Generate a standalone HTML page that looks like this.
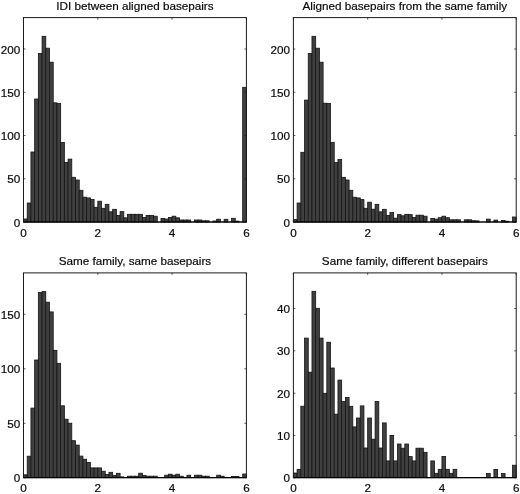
<!DOCTYPE html>
<html><head><meta charset="utf-8"><style>
html,body{margin:0;padding:0;background:#fff;}
svg{display:block;filter:grayscale(1);}
text{font-family:"Liberation Sans",sans-serif;font-size:11.7px;fill:#0a0a0a;stroke:#0a0a0a;stroke-width:0.2px;}
</style></head><body>
<svg width="520" height="494" viewBox="0 0 520 494">
<rect width="520" height="494" fill="#fff"/>
<rect x="23.50" y="219.00" width="3.72" height="3.00" fill="#404040" stroke="#141414" stroke-width="0.8"/>
<rect x="27.21" y="203.00" width="3.72" height="19.00" fill="#404040" stroke="#141414" stroke-width="0.8"/>
<rect x="30.93" y="152.00" width="3.72" height="70.00" fill="#404040" stroke="#141414" stroke-width="0.8"/>
<rect x="34.65" y="99.00" width="3.72" height="123.00" fill="#404040" stroke="#141414" stroke-width="0.8"/>
<rect x="38.36" y="53.50" width="3.72" height="168.50" fill="#404040" stroke="#141414" stroke-width="0.8"/>
<rect x="42.08" y="36.30" width="3.72" height="185.70" fill="#404040" stroke="#141414" stroke-width="0.8"/>
<rect x="45.79" y="48.20" width="3.72" height="173.80" fill="#404040" stroke="#141414" stroke-width="0.8"/>
<rect x="49.51" y="62.20" width="3.72" height="159.80" fill="#404040" stroke="#141414" stroke-width="0.8"/>
<rect x="53.22" y="102.80" width="3.72" height="119.20" fill="#404040" stroke="#141414" stroke-width="0.8"/>
<rect x="56.94" y="103.50" width="3.72" height="118.50" fill="#404040" stroke="#141414" stroke-width="0.8"/>
<rect x="60.65" y="142.50" width="3.72" height="79.50" fill="#404040" stroke="#141414" stroke-width="0.8"/>
<rect x="64.37" y="162.40" width="3.72" height="59.60" fill="#404040" stroke="#141414" stroke-width="0.8"/>
<rect x="68.08" y="159.10" width="3.72" height="62.90" fill="#404040" stroke="#141414" stroke-width="0.8"/>
<rect x="71.80" y="177.30" width="3.72" height="44.70" fill="#404040" stroke="#141414" stroke-width="0.8"/>
<rect x="75.51" y="180.00" width="3.72" height="42.00" fill="#404040" stroke="#141414" stroke-width="0.8"/>
<rect x="79.22" y="190.30" width="3.72" height="31.70" fill="#404040" stroke="#141414" stroke-width="0.8"/>
<rect x="82.94" y="197.20" width="3.72" height="24.80" fill="#404040" stroke="#141414" stroke-width="0.8"/>
<rect x="86.66" y="197.90" width="3.72" height="24.10" fill="#404040" stroke="#141414" stroke-width="0.8"/>
<rect x="90.37" y="199.40" width="3.72" height="22.60" fill="#404040" stroke="#141414" stroke-width="0.8"/>
<rect x="94.09" y="207.30" width="3.72" height="14.70" fill="#404040" stroke="#141414" stroke-width="0.8"/>
<rect x="97.80" y="201.20" width="3.72" height="20.80" fill="#404040" stroke="#141414" stroke-width="0.8"/>
<rect x="101.52" y="208.30" width="3.72" height="13.70" fill="#404040" stroke="#141414" stroke-width="0.8"/>
<rect x="105.23" y="204.30" width="3.72" height="17.70" fill="#404040" stroke="#141414" stroke-width="0.8"/>
<rect x="108.95" y="211.80" width="3.72" height="10.20" fill="#404040" stroke="#141414" stroke-width="0.8"/>
<rect x="112.66" y="209.30" width="3.72" height="12.70" fill="#404040" stroke="#141414" stroke-width="0.8"/>
<rect x="116.38" y="215.40" width="3.72" height="6.60" fill="#404040" stroke="#141414" stroke-width="0.8"/>
<rect x="120.09" y="211.60" width="3.72" height="10.40" fill="#404040" stroke="#141414" stroke-width="0.8"/>
<rect x="123.81" y="217.80" width="3.72" height="4.20" fill="#404040" stroke="#141414" stroke-width="0.8"/>
<rect x="127.52" y="214.30" width="3.72" height="7.70" fill="#404040" stroke="#141414" stroke-width="0.8"/>
<rect x="131.24" y="214.30" width="3.72" height="7.70" fill="#404040" stroke="#141414" stroke-width="0.8"/>
<rect x="134.95" y="214.30" width="3.72" height="7.70" fill="#404040" stroke="#141414" stroke-width="0.8"/>
<rect x="138.67" y="214.30" width="3.72" height="7.70" fill="#404040" stroke="#141414" stroke-width="0.8"/>
<rect x="142.38" y="217.40" width="3.72" height="4.60" fill="#404040" stroke="#141414" stroke-width="0.8"/>
<rect x="146.10" y="215.40" width="3.72" height="6.60" fill="#404040" stroke="#141414" stroke-width="0.8"/>
<rect x="149.81" y="215.40" width="3.72" height="6.60" fill="#404040" stroke="#141414" stroke-width="0.8"/>
<rect x="153.53" y="216.20" width="3.72" height="5.80" fill="#404040" stroke="#141414" stroke-width="0.8"/>
<rect x="160.96" y="218.40" width="3.72" height="3.60" fill="#404040" stroke="#141414" stroke-width="0.8"/>
<rect x="164.67" y="219.00" width="3.72" height="3.00" fill="#404040" stroke="#141414" stroke-width="0.8"/>
<rect x="168.39" y="217.40" width="3.72" height="4.60" fill="#404040" stroke="#141414" stroke-width="0.8"/>
<rect x="172.10" y="216.20" width="3.72" height="5.80" fill="#404040" stroke="#141414" stroke-width="0.8"/>
<rect x="175.82" y="217.80" width="3.72" height="4.20" fill="#404040" stroke="#141414" stroke-width="0.8"/>
<rect x="179.53" y="220.00" width="3.72" height="2.00" fill="#404040" stroke="#141414" stroke-width="0.8"/>
<rect x="183.25" y="220.00" width="3.72" height="2.00" fill="#404040" stroke="#141414" stroke-width="0.8"/>
<rect x="186.96" y="220.00" width="3.72" height="2.00" fill="#404040" stroke="#141414" stroke-width="0.8"/>
<rect x="194.39" y="220.00" width="3.72" height="2.00" fill="#404040" stroke="#141414" stroke-width="0.8"/>
<rect x="198.11" y="220.00" width="3.72" height="2.00" fill="#404040" stroke="#141414" stroke-width="0.8"/>
<rect x="201.82" y="220.80" width="3.72" height="1.20" fill="#404040" stroke="#141414" stroke-width="0.8"/>
<rect x="205.54" y="220.80" width="3.72" height="1.20" fill="#404040" stroke="#141414" stroke-width="0.8"/>
<rect x="212.97" y="221.00" width="3.72" height="1.00" fill="#404040" stroke="#141414" stroke-width="0.8"/>
<rect x="216.68" y="219.20" width="3.72" height="2.80" fill="#404040" stroke="#141414" stroke-width="0.8"/>
<rect x="224.11" y="219.30" width="3.72" height="2.70" fill="#404040" stroke="#141414" stroke-width="0.8"/>
<rect x="231.54" y="218.30" width="3.72" height="3.70" fill="#404040" stroke="#141414" stroke-width="0.8"/>
<rect x="235.26" y="221.10" width="3.72" height="0.90" fill="#404040" stroke="#141414" stroke-width="0.8"/>
<rect x="242.69" y="87.30" width="3.72" height="134.70" fill="#404040" stroke="#141414" stroke-width="0.8"/>
<rect x="23.5" y="17.6" width="222.90" height="204.40" fill="none" stroke="#1a1a1a" stroke-width="1"/>
<line x1="23.5" y1="222.0" x2="246.4" y2="222.0" stroke="#000" stroke-width="1.2"/>
<line x1="23.50" y1="222.0" x2="23.50" y2="220.0" stroke="#1a1a1a" stroke-width="0.7"/>
<line x1="23.50" y1="17.6" x2="23.50" y2="19.6" stroke="#1a1a1a" stroke-width="0.7"/>
<text x="23.50" y="236.8" text-anchor="middle">0</text>
<line x1="97.80" y1="222.0" x2="97.80" y2="220.0" stroke="#1a1a1a" stroke-width="0.7"/>
<line x1="97.80" y1="17.6" x2="97.80" y2="19.6" stroke="#1a1a1a" stroke-width="0.7"/>
<text x="97.80" y="236.8" text-anchor="middle">2</text>
<line x1="172.10" y1="222.0" x2="172.10" y2="220.0" stroke="#1a1a1a" stroke-width="0.7"/>
<line x1="172.10" y1="17.6" x2="172.10" y2="19.6" stroke="#1a1a1a" stroke-width="0.7"/>
<text x="172.10" y="236.8" text-anchor="middle">4</text>
<line x1="246.40" y1="222.0" x2="246.40" y2="220.0" stroke="#1a1a1a" stroke-width="0.7"/>
<line x1="246.40" y1="17.6" x2="246.40" y2="19.6" stroke="#1a1a1a" stroke-width="0.7"/>
<text x="246.40" y="236.8" text-anchor="middle">6</text>
<line x1="23.5" y1="222.00" x2="25.5" y2="222.00" stroke="#1a1a1a" stroke-width="0.7"/>
<line x1="246.4" y1="222.00" x2="244.4" y2="222.00" stroke="#1a1a1a" stroke-width="0.7"/>
<text x="20.20" y="226.50" text-anchor="end">0</text>
<line x1="23.5" y1="178.75" x2="25.5" y2="178.75" stroke="#1a1a1a" stroke-width="0.7"/>
<line x1="246.4" y1="178.75" x2="244.4" y2="178.75" stroke="#1a1a1a" stroke-width="0.7"/>
<text x="20.20" y="183.25" text-anchor="end">50</text>
<line x1="23.5" y1="135.50" x2="25.5" y2="135.50" stroke="#1a1a1a" stroke-width="0.7"/>
<line x1="246.4" y1="135.50" x2="244.4" y2="135.50" stroke="#1a1a1a" stroke-width="0.7"/>
<text x="20.20" y="140.00" text-anchor="end">100</text>
<line x1="23.5" y1="92.25" x2="25.5" y2="92.25" stroke="#1a1a1a" stroke-width="0.7"/>
<line x1="246.4" y1="92.25" x2="244.4" y2="92.25" stroke="#1a1a1a" stroke-width="0.7"/>
<text x="20.20" y="96.75" text-anchor="end">150</text>
<line x1="23.5" y1="49.00" x2="25.5" y2="49.00" stroke="#1a1a1a" stroke-width="0.7"/>
<line x1="246.4" y1="49.00" x2="244.4" y2="49.00" stroke="#1a1a1a" stroke-width="0.7"/>
<text x="20.20" y="53.50" text-anchor="end">200</text>
<text x="134.95" y="9.7" text-anchor="middle">IDI between aligned basepairs</text>
<rect x="293.40" y="219.60" width="3.71" height="2.40" fill="#404040" stroke="#141414" stroke-width="0.8"/>
<rect x="297.11" y="203.00" width="3.71" height="19.00" fill="#404040" stroke="#141414" stroke-width="0.8"/>
<rect x="300.83" y="152.30" width="3.71" height="69.70" fill="#404040" stroke="#141414" stroke-width="0.8"/>
<rect x="304.54" y="100.10" width="3.71" height="121.90" fill="#404040" stroke="#141414" stroke-width="0.8"/>
<rect x="308.25" y="53.50" width="3.71" height="168.50" fill="#404040" stroke="#141414" stroke-width="0.8"/>
<rect x="311.97" y="36.30" width="3.71" height="185.70" fill="#404040" stroke="#141414" stroke-width="0.8"/>
<rect x="315.68" y="48.20" width="3.71" height="173.80" fill="#404040" stroke="#141414" stroke-width="0.8"/>
<rect x="319.39" y="62.20" width="3.71" height="159.80" fill="#404040" stroke="#141414" stroke-width="0.8"/>
<rect x="323.11" y="103.20" width="3.71" height="118.80" fill="#404040" stroke="#141414" stroke-width="0.8"/>
<rect x="326.82" y="103.50" width="3.71" height="118.50" fill="#404040" stroke="#141414" stroke-width="0.8"/>
<rect x="330.53" y="142.30" width="3.71" height="79.70" fill="#404040" stroke="#141414" stroke-width="0.8"/>
<rect x="334.25" y="162.60" width="3.71" height="59.40" fill="#404040" stroke="#141414" stroke-width="0.8"/>
<rect x="337.96" y="159.40" width="3.71" height="62.60" fill="#404040" stroke="#141414" stroke-width="0.8"/>
<rect x="341.67" y="177.30" width="3.71" height="44.70" fill="#404040" stroke="#141414" stroke-width="0.8"/>
<rect x="345.39" y="180.00" width="3.71" height="42.00" fill="#404040" stroke="#141414" stroke-width="0.8"/>
<rect x="349.10" y="190.30" width="3.71" height="31.70" fill="#404040" stroke="#141414" stroke-width="0.8"/>
<rect x="352.81" y="197.20" width="3.71" height="24.80" fill="#404040" stroke="#141414" stroke-width="0.8"/>
<rect x="356.53" y="197.90" width="3.71" height="24.10" fill="#404040" stroke="#141414" stroke-width="0.8"/>
<rect x="360.24" y="199.60" width="3.71" height="22.40" fill="#404040" stroke="#141414" stroke-width="0.8"/>
<rect x="363.95" y="208.30" width="3.71" height="13.70" fill="#404040" stroke="#141414" stroke-width="0.8"/>
<rect x="367.67" y="202.20" width="3.71" height="19.80" fill="#404040" stroke="#141414" stroke-width="0.8"/>
<rect x="371.38" y="209.20" width="3.71" height="12.80" fill="#404040" stroke="#141414" stroke-width="0.8"/>
<rect x="375.09" y="204.30" width="3.71" height="17.70" fill="#404040" stroke="#141414" stroke-width="0.8"/>
<rect x="378.81" y="211.80" width="3.71" height="10.20" fill="#404040" stroke="#141414" stroke-width="0.8"/>
<rect x="382.52" y="209.30" width="3.71" height="12.70" fill="#404040" stroke="#141414" stroke-width="0.8"/>
<rect x="386.23" y="215.40" width="3.71" height="6.60" fill="#404040" stroke="#141414" stroke-width="0.8"/>
<rect x="389.95" y="212.50" width="3.71" height="9.50" fill="#404040" stroke="#141414" stroke-width="0.8"/>
<rect x="393.66" y="218.20" width="3.71" height="3.80" fill="#404040" stroke="#141414" stroke-width="0.8"/>
<rect x="397.37" y="214.60" width="3.71" height="7.40" fill="#404040" stroke="#141414" stroke-width="0.8"/>
<rect x="401.09" y="215.80" width="3.71" height="6.20" fill="#404040" stroke="#141414" stroke-width="0.8"/>
<rect x="404.80" y="214.30" width="3.71" height="7.70" fill="#404040" stroke="#141414" stroke-width="0.8"/>
<rect x="408.51" y="214.60" width="3.71" height="7.40" fill="#404040" stroke="#141414" stroke-width="0.8"/>
<rect x="412.23" y="217.40" width="3.71" height="4.60" fill="#404040" stroke="#141414" stroke-width="0.8"/>
<rect x="415.94" y="215.20" width="3.71" height="6.80" fill="#404040" stroke="#141414" stroke-width="0.8"/>
<rect x="419.65" y="215.20" width="3.71" height="6.80" fill="#404040" stroke="#141414" stroke-width="0.8"/>
<rect x="423.37" y="216.20" width="3.71" height="5.80" fill="#404040" stroke="#141414" stroke-width="0.8"/>
<rect x="430.79" y="218.40" width="3.71" height="3.60" fill="#404040" stroke="#141414" stroke-width="0.8"/>
<rect x="434.51" y="219.10" width="3.71" height="2.90" fill="#404040" stroke="#141414" stroke-width="0.8"/>
<rect x="438.22" y="217.70" width="3.71" height="4.30" fill="#404040" stroke="#141414" stroke-width="0.8"/>
<rect x="441.93" y="216.20" width="3.71" height="5.80" fill="#404040" stroke="#141414" stroke-width="0.8"/>
<rect x="445.65" y="217.70" width="3.71" height="4.30" fill="#404040" stroke="#141414" stroke-width="0.8"/>
<rect x="449.36" y="219.80" width="3.71" height="2.20" fill="#404040" stroke="#141414" stroke-width="0.8"/>
<rect x="453.07" y="219.80" width="3.71" height="2.20" fill="#404040" stroke="#141414" stroke-width="0.8"/>
<rect x="456.79" y="219.80" width="3.71" height="2.20" fill="#404040" stroke="#141414" stroke-width="0.8"/>
<rect x="464.21" y="219.80" width="3.71" height="2.20" fill="#404040" stroke="#141414" stroke-width="0.8"/>
<rect x="467.93" y="219.80" width="3.71" height="2.20" fill="#404040" stroke="#141414" stroke-width="0.8"/>
<rect x="471.64" y="220.70" width="3.71" height="1.30" fill="#404040" stroke="#141414" stroke-width="0.8"/>
<rect x="475.35" y="220.90" width="3.71" height="1.10" fill="#404040" stroke="#141414" stroke-width="0.8"/>
<rect x="486.49" y="219.10" width="3.71" height="2.90" fill="#404040" stroke="#141414" stroke-width="0.8"/>
<rect x="493.92" y="220.10" width="3.71" height="1.90" fill="#404040" stroke="#141414" stroke-width="0.8"/>
<rect x="501.35" y="220.40" width="3.71" height="1.60" fill="#404040" stroke="#141414" stroke-width="0.8"/>
<rect x="505.06" y="221.20" width="3.71" height="0.80" fill="#404040" stroke="#141414" stroke-width="0.8"/>
<rect x="512.49" y="217.00" width="3.71" height="5.00" fill="#404040" stroke="#141414" stroke-width="0.8"/>
<rect x="293.4" y="17.6" width="222.80" height="204.40" fill="none" stroke="#1a1a1a" stroke-width="1"/>
<line x1="293.4" y1="222.0" x2="516.2" y2="222.0" stroke="#000" stroke-width="1.2"/>
<line x1="293.40" y1="222.0" x2="293.40" y2="220.0" stroke="#1a1a1a" stroke-width="0.7"/>
<line x1="293.40" y1="17.6" x2="293.40" y2="19.6" stroke="#1a1a1a" stroke-width="0.7"/>
<text x="293.40" y="236.8" text-anchor="middle">0</text>
<line x1="367.67" y1="222.0" x2="367.67" y2="220.0" stroke="#1a1a1a" stroke-width="0.7"/>
<line x1="367.67" y1="17.6" x2="367.67" y2="19.6" stroke="#1a1a1a" stroke-width="0.7"/>
<text x="367.67" y="236.8" text-anchor="middle">2</text>
<line x1="441.93" y1="222.0" x2="441.93" y2="220.0" stroke="#1a1a1a" stroke-width="0.7"/>
<line x1="441.93" y1="17.6" x2="441.93" y2="19.6" stroke="#1a1a1a" stroke-width="0.7"/>
<text x="441.93" y="236.8" text-anchor="middle">4</text>
<line x1="516.20" y1="222.0" x2="516.20" y2="220.0" stroke="#1a1a1a" stroke-width="0.7"/>
<line x1="516.20" y1="17.6" x2="516.20" y2="19.6" stroke="#1a1a1a" stroke-width="0.7"/>
<text x="516.20" y="236.8" text-anchor="middle">6</text>
<line x1="293.4" y1="222.00" x2="295.4" y2="222.00" stroke="#1a1a1a" stroke-width="0.7"/>
<line x1="516.2" y1="222.00" x2="514.2" y2="222.00" stroke="#1a1a1a" stroke-width="0.7"/>
<text x="290.10" y="226.50" text-anchor="end">0</text>
<line x1="293.4" y1="178.75" x2="295.4" y2="178.75" stroke="#1a1a1a" stroke-width="0.7"/>
<line x1="516.2" y1="178.75" x2="514.2" y2="178.75" stroke="#1a1a1a" stroke-width="0.7"/>
<text x="290.10" y="183.25" text-anchor="end">50</text>
<line x1="293.4" y1="135.50" x2="295.4" y2="135.50" stroke="#1a1a1a" stroke-width="0.7"/>
<line x1="516.2" y1="135.50" x2="514.2" y2="135.50" stroke="#1a1a1a" stroke-width="0.7"/>
<text x="290.10" y="140.00" text-anchor="end">100</text>
<line x1="293.4" y1="92.25" x2="295.4" y2="92.25" stroke="#1a1a1a" stroke-width="0.7"/>
<line x1="516.2" y1="92.25" x2="514.2" y2="92.25" stroke="#1a1a1a" stroke-width="0.7"/>
<text x="290.10" y="96.75" text-anchor="end">150</text>
<line x1="293.4" y1="49.00" x2="295.4" y2="49.00" stroke="#1a1a1a" stroke-width="0.7"/>
<line x1="516.2" y1="49.00" x2="514.2" y2="49.00" stroke="#1a1a1a" stroke-width="0.7"/>
<text x="290.10" y="53.50" text-anchor="end">200</text>
<text x="404.80" y="9.7" text-anchor="middle">Aligned basepairs from the same family</text>
<rect x="23.50" y="474.80" width="3.72" height="2.80" fill="#404040" stroke="#141414" stroke-width="0.8"/>
<rect x="27.21" y="456.20" width="3.72" height="21.40" fill="#404040" stroke="#141414" stroke-width="0.8"/>
<rect x="30.93" y="408.10" width="3.72" height="69.50" fill="#404040" stroke="#141414" stroke-width="0.8"/>
<rect x="34.65" y="360.00" width="3.72" height="117.60" fill="#404040" stroke="#141414" stroke-width="0.8"/>
<rect x="38.36" y="292.50" width="3.72" height="185.10" fill="#404040" stroke="#141414" stroke-width="0.8"/>
<rect x="42.08" y="291.60" width="3.72" height="186.00" fill="#404040" stroke="#141414" stroke-width="0.8"/>
<rect x="45.79" y="302.20" width="3.72" height="175.40" fill="#404040" stroke="#141414" stroke-width="0.8"/>
<rect x="49.51" y="311.90" width="3.72" height="165.70" fill="#404040" stroke="#141414" stroke-width="0.8"/>
<rect x="53.22" y="350.30" width="3.72" height="127.30" fill="#404040" stroke="#141414" stroke-width="0.8"/>
<rect x="56.94" y="363.30" width="3.72" height="114.30" fill="#404040" stroke="#141414" stroke-width="0.8"/>
<rect x="60.65" y="405.80" width="3.72" height="71.80" fill="#404040" stroke="#141414" stroke-width="0.8"/>
<rect x="64.37" y="419.20" width="3.72" height="58.40" fill="#404040" stroke="#141414" stroke-width="0.8"/>
<rect x="68.08" y="423.20" width="3.72" height="54.40" fill="#404040" stroke="#141414" stroke-width="0.8"/>
<rect x="71.80" y="440.70" width="3.72" height="36.90" fill="#404040" stroke="#141414" stroke-width="0.8"/>
<rect x="75.51" y="445.10" width="3.72" height="32.50" fill="#404040" stroke="#141414" stroke-width="0.8"/>
<rect x="79.22" y="456.10" width="3.72" height="21.50" fill="#404040" stroke="#141414" stroke-width="0.8"/>
<rect x="82.94" y="459.20" width="3.72" height="18.40" fill="#404040" stroke="#141414" stroke-width="0.8"/>
<rect x="86.66" y="462.40" width="3.72" height="15.20" fill="#404040" stroke="#141414" stroke-width="0.8"/>
<rect x="90.37" y="467.90" width="3.72" height="9.70" fill="#404040" stroke="#141414" stroke-width="0.8"/>
<rect x="94.09" y="467.90" width="3.72" height="9.70" fill="#404040" stroke="#141414" stroke-width="0.8"/>
<rect x="97.80" y="467.90" width="3.72" height="9.70" fill="#404040" stroke="#141414" stroke-width="0.8"/>
<rect x="101.52" y="471.20" width="3.72" height="6.40" fill="#404040" stroke="#141414" stroke-width="0.8"/>
<rect x="105.23" y="474.40" width="3.72" height="3.20" fill="#404040" stroke="#141414" stroke-width="0.8"/>
<rect x="108.95" y="472.30" width="3.72" height="5.30" fill="#404040" stroke="#141414" stroke-width="0.8"/>
<rect x="112.66" y="475.40" width="3.72" height="2.20" fill="#404040" stroke="#141414" stroke-width="0.8"/>
<rect x="116.38" y="473.30" width="3.72" height="4.30" fill="#404040" stroke="#141414" stroke-width="0.8"/>
<rect x="120.09" y="476.90" width="3.72" height="0.70" fill="#404040" stroke="#141414" stroke-width="0.8"/>
<rect x="127.52" y="476.20" width="3.72" height="1.40" fill="#404040" stroke="#141414" stroke-width="0.8"/>
<rect x="131.24" y="476.20" width="3.72" height="1.40" fill="#404040" stroke="#141414" stroke-width="0.8"/>
<rect x="134.95" y="476.20" width="3.72" height="1.40" fill="#404040" stroke="#141414" stroke-width="0.8"/>
<rect x="138.67" y="473.20" width="3.72" height="4.40" fill="#404040" stroke="#141414" stroke-width="0.8"/>
<rect x="142.38" y="475.40" width="3.72" height="2.20" fill="#404040" stroke="#141414" stroke-width="0.8"/>
<rect x="146.10" y="476.20" width="3.72" height="1.40" fill="#404040" stroke="#141414" stroke-width="0.8"/>
<rect x="149.81" y="476.20" width="3.72" height="1.40" fill="#404040" stroke="#141414" stroke-width="0.8"/>
<rect x="153.53" y="476.20" width="3.72" height="1.40" fill="#404040" stroke="#141414" stroke-width="0.8"/>
<rect x="164.67" y="475.20" width="3.72" height="2.40" fill="#404040" stroke="#141414" stroke-width="0.8"/>
<rect x="168.39" y="474.20" width="3.72" height="3.40" fill="#404040" stroke="#141414" stroke-width="0.8"/>
<rect x="172.10" y="475.20" width="3.72" height="2.40" fill="#404040" stroke="#141414" stroke-width="0.8"/>
<rect x="175.82" y="474.20" width="3.72" height="3.40" fill="#404040" stroke="#141414" stroke-width="0.8"/>
<rect x="179.53" y="476.20" width="3.72" height="1.40" fill="#404040" stroke="#141414" stroke-width="0.8"/>
<rect x="186.96" y="475.20" width="3.72" height="2.40" fill="#404040" stroke="#141414" stroke-width="0.8"/>
<rect x="194.39" y="475.20" width="3.72" height="2.40" fill="#404040" stroke="#141414" stroke-width="0.8"/>
<rect x="198.11" y="475.20" width="3.72" height="2.40" fill="#404040" stroke="#141414" stroke-width="0.8"/>
<rect x="201.82" y="476.20" width="3.72" height="1.40" fill="#404040" stroke="#141414" stroke-width="0.8"/>
<rect x="205.54" y="476.20" width="3.72" height="1.40" fill="#404040" stroke="#141414" stroke-width="0.8"/>
<rect x="216.68" y="475.20" width="3.72" height="2.40" fill="#404040" stroke="#141414" stroke-width="0.8"/>
<rect x="220.40" y="476.20" width="3.72" height="1.40" fill="#404040" stroke="#141414" stroke-width="0.8"/>
<rect x="231.54" y="476.40" width="3.72" height="1.20" fill="#404040" stroke="#141414" stroke-width="0.8"/>
<rect x="235.26" y="476.40" width="3.72" height="1.20" fill="#404040" stroke="#141414" stroke-width="0.8"/>
<rect x="242.69" y="474.00" width="3.72" height="3.60" fill="#404040" stroke="#141414" stroke-width="0.8"/>
<rect x="23.5" y="272.9" width="222.90" height="204.70" fill="none" stroke="#1a1a1a" stroke-width="1"/>
<line x1="23.5" y1="477.6" x2="246.4" y2="477.6" stroke="#000" stroke-width="1.2"/>
<line x1="23.50" y1="477.6" x2="23.50" y2="475.6" stroke="#1a1a1a" stroke-width="0.7"/>
<line x1="23.50" y1="272.9" x2="23.50" y2="274.9" stroke="#1a1a1a" stroke-width="0.7"/>
<text x="23.50" y="492.4" text-anchor="middle">0</text>
<line x1="97.80" y1="477.6" x2="97.80" y2="475.6" stroke="#1a1a1a" stroke-width="0.7"/>
<line x1="97.80" y1="272.9" x2="97.80" y2="274.9" stroke="#1a1a1a" stroke-width="0.7"/>
<text x="97.80" y="492.4" text-anchor="middle">2</text>
<line x1="172.10" y1="477.6" x2="172.10" y2="475.6" stroke="#1a1a1a" stroke-width="0.7"/>
<line x1="172.10" y1="272.9" x2="172.10" y2="274.9" stroke="#1a1a1a" stroke-width="0.7"/>
<text x="172.10" y="492.4" text-anchor="middle">4</text>
<line x1="246.40" y1="477.6" x2="246.40" y2="475.6" stroke="#1a1a1a" stroke-width="0.7"/>
<line x1="246.40" y1="272.9" x2="246.40" y2="274.9" stroke="#1a1a1a" stroke-width="0.7"/>
<text x="246.40" y="492.4" text-anchor="middle">6</text>
<line x1="23.5" y1="477.80" x2="25.5" y2="477.80" stroke="#1a1a1a" stroke-width="0.7"/>
<line x1="246.4" y1="477.80" x2="244.4" y2="477.80" stroke="#1a1a1a" stroke-width="0.7"/>
<text x="20.20" y="482.30" text-anchor="end">0</text>
<line x1="23.5" y1="423.30" x2="25.5" y2="423.30" stroke="#1a1a1a" stroke-width="0.7"/>
<line x1="246.4" y1="423.30" x2="244.4" y2="423.30" stroke="#1a1a1a" stroke-width="0.7"/>
<text x="20.20" y="427.80" text-anchor="end">50</text>
<line x1="23.5" y1="368.80" x2="25.5" y2="368.80" stroke="#1a1a1a" stroke-width="0.7"/>
<line x1="246.4" y1="368.80" x2="244.4" y2="368.80" stroke="#1a1a1a" stroke-width="0.7"/>
<text x="20.20" y="373.30" text-anchor="end">100</text>
<line x1="23.5" y1="314.30" x2="25.5" y2="314.30" stroke="#1a1a1a" stroke-width="0.7"/>
<line x1="246.4" y1="314.30" x2="244.4" y2="314.30" stroke="#1a1a1a" stroke-width="0.7"/>
<text x="20.20" y="318.80" text-anchor="end">150</text>
<text x="134.95" y="264.8" text-anchor="middle">Same family, same basepairs</text>
<rect x="293.40" y="473.00" width="3.71" height="4.60" fill="#404040" stroke="#141414" stroke-width="0.8"/>
<rect x="297.11" y="469.30" width="3.71" height="8.30" fill="#404040" stroke="#141414" stroke-width="0.8"/>
<rect x="300.83" y="406.20" width="3.71" height="71.40" fill="#404040" stroke="#141414" stroke-width="0.8"/>
<rect x="304.54" y="338.10" width="3.71" height="139.50" fill="#404040" stroke="#141414" stroke-width="0.8"/>
<rect x="308.25" y="372.20" width="3.71" height="105.40" fill="#404040" stroke="#141414" stroke-width="0.8"/>
<rect x="311.97" y="291.30" width="3.71" height="186.30" fill="#404040" stroke="#141414" stroke-width="0.8"/>
<rect x="315.68" y="308.30" width="3.71" height="169.30" fill="#404040" stroke="#141414" stroke-width="0.8"/>
<rect x="319.39" y="338.10" width="3.71" height="139.50" fill="#404040" stroke="#141414" stroke-width="0.8"/>
<rect x="323.11" y="393.30" width="3.71" height="84.30" fill="#404040" stroke="#141414" stroke-width="0.8"/>
<rect x="326.82" y="342.20" width="3.71" height="135.40" fill="#404040" stroke="#141414" stroke-width="0.8"/>
<rect x="330.53" y="368.00" width="3.71" height="109.60" fill="#404040" stroke="#141414" stroke-width="0.8"/>
<rect x="334.25" y="414.20" width="3.71" height="63.40" fill="#404040" stroke="#141414" stroke-width="0.8"/>
<rect x="337.96" y="380.10" width="3.71" height="97.50" fill="#404040" stroke="#141414" stroke-width="0.8"/>
<rect x="341.67" y="401.40" width="3.71" height="76.20" fill="#404040" stroke="#141414" stroke-width="0.8"/>
<rect x="345.39" y="397.40" width="3.71" height="80.20" fill="#404040" stroke="#141414" stroke-width="0.8"/>
<rect x="349.10" y="406.30" width="3.71" height="71.30" fill="#404040" stroke="#141414" stroke-width="0.8"/>
<rect x="352.81" y="426.90" width="3.71" height="50.70" fill="#404040" stroke="#141414" stroke-width="0.8"/>
<rect x="356.53" y="418.00" width="3.71" height="59.60" fill="#404040" stroke="#141414" stroke-width="0.8"/>
<rect x="360.24" y="405.90" width="3.71" height="71.70" fill="#404040" stroke="#141414" stroke-width="0.8"/>
<rect x="363.95" y="448.00" width="3.71" height="29.60" fill="#404040" stroke="#141414" stroke-width="0.8"/>
<rect x="367.67" y="418.00" width="3.71" height="59.60" fill="#404040" stroke="#141414" stroke-width="0.8"/>
<rect x="371.38" y="439.20" width="3.71" height="38.40" fill="#404040" stroke="#141414" stroke-width="0.8"/>
<rect x="375.09" y="401.40" width="3.71" height="76.20" fill="#404040" stroke="#141414" stroke-width="0.8"/>
<rect x="378.81" y="448.00" width="3.71" height="29.60" fill="#404040" stroke="#141414" stroke-width="0.8"/>
<rect x="382.52" y="422.90" width="3.71" height="54.70" fill="#404040" stroke="#141414" stroke-width="0.8"/>
<rect x="386.23" y="460.90" width="3.71" height="16.70" fill="#404040" stroke="#141414" stroke-width="0.8"/>
<rect x="389.95" y="435.40" width="3.71" height="42.20" fill="#404040" stroke="#141414" stroke-width="0.8"/>
<rect x="393.66" y="460.90" width="3.71" height="16.70" fill="#404040" stroke="#141414" stroke-width="0.8"/>
<rect x="397.37" y="444.00" width="3.71" height="33.60" fill="#404040" stroke="#141414" stroke-width="0.8"/>
<rect x="401.09" y="448.20" width="3.71" height="29.40" fill="#404040" stroke="#141414" stroke-width="0.8"/>
<rect x="404.80" y="444.00" width="3.71" height="33.60" fill="#404040" stroke="#141414" stroke-width="0.8"/>
<rect x="408.51" y="456.60" width="3.71" height="21.00" fill="#404040" stroke="#141414" stroke-width="0.8"/>
<rect x="412.23" y="460.90" width="3.71" height="16.70" fill="#404040" stroke="#141414" stroke-width="0.8"/>
<rect x="415.94" y="448.20" width="3.71" height="29.40" fill="#404040" stroke="#141414" stroke-width="0.8"/>
<rect x="419.65" y="448.20" width="3.71" height="29.40" fill="#404040" stroke="#141414" stroke-width="0.8"/>
<rect x="423.37" y="452.30" width="3.71" height="25.30" fill="#404040" stroke="#141414" stroke-width="0.8"/>
<rect x="430.79" y="460.90" width="3.71" height="16.70" fill="#404040" stroke="#141414" stroke-width="0.8"/>
<rect x="434.51" y="473.30" width="3.71" height="4.30" fill="#404040" stroke="#141414" stroke-width="0.8"/>
<rect x="438.22" y="469.30" width="3.71" height="8.30" fill="#404040" stroke="#141414" stroke-width="0.8"/>
<rect x="441.93" y="456.50" width="3.71" height="21.10" fill="#404040" stroke="#141414" stroke-width="0.8"/>
<rect x="445.65" y="469.30" width="3.71" height="8.30" fill="#404040" stroke="#141414" stroke-width="0.8"/>
<rect x="449.36" y="473.30" width="3.71" height="4.30" fill="#404040" stroke="#141414" stroke-width="0.8"/>
<rect x="453.07" y="469.30" width="3.71" height="8.30" fill="#404040" stroke="#141414" stroke-width="0.8"/>
<rect x="486.49" y="473.40" width="3.71" height="4.20" fill="#404040" stroke="#141414" stroke-width="0.8"/>
<rect x="493.92" y="469.40" width="3.71" height="8.20" fill="#404040" stroke="#141414" stroke-width="0.8"/>
<rect x="501.35" y="473.40" width="3.71" height="4.20" fill="#404040" stroke="#141414" stroke-width="0.8"/>
<rect x="512.49" y="465.20" width="3.71" height="12.40" fill="#404040" stroke="#141414" stroke-width="0.8"/>
<rect x="293.4" y="272.9" width="222.80" height="204.70" fill="none" stroke="#1a1a1a" stroke-width="1"/>
<line x1="293.4" y1="477.6" x2="516.2" y2="477.6" stroke="#000" stroke-width="1.2"/>
<line x1="293.40" y1="477.6" x2="293.40" y2="475.6" stroke="#1a1a1a" stroke-width="0.7"/>
<line x1="293.40" y1="272.9" x2="293.40" y2="274.9" stroke="#1a1a1a" stroke-width="0.7"/>
<text x="293.40" y="492.4" text-anchor="middle">0</text>
<line x1="367.67" y1="477.6" x2="367.67" y2="475.6" stroke="#1a1a1a" stroke-width="0.7"/>
<line x1="367.67" y1="272.9" x2="367.67" y2="274.9" stroke="#1a1a1a" stroke-width="0.7"/>
<text x="367.67" y="492.4" text-anchor="middle">2</text>
<line x1="441.93" y1="477.6" x2="441.93" y2="475.6" stroke="#1a1a1a" stroke-width="0.7"/>
<line x1="441.93" y1="272.9" x2="441.93" y2="274.9" stroke="#1a1a1a" stroke-width="0.7"/>
<text x="441.93" y="492.4" text-anchor="middle">4</text>
<line x1="516.20" y1="477.6" x2="516.20" y2="475.6" stroke="#1a1a1a" stroke-width="0.7"/>
<line x1="516.20" y1="272.9" x2="516.20" y2="274.9" stroke="#1a1a1a" stroke-width="0.7"/>
<text x="516.20" y="492.4" text-anchor="middle">6</text>
<line x1="293.4" y1="477.90" x2="295.4" y2="477.90" stroke="#1a1a1a" stroke-width="0.7"/>
<line x1="516.2" y1="477.90" x2="514.2" y2="477.90" stroke="#1a1a1a" stroke-width="0.7"/>
<text x="290.10" y="482.40" text-anchor="end">0</text>
<line x1="293.4" y1="435.55" x2="295.4" y2="435.55" stroke="#1a1a1a" stroke-width="0.7"/>
<line x1="516.2" y1="435.55" x2="514.2" y2="435.55" stroke="#1a1a1a" stroke-width="0.7"/>
<text x="290.10" y="440.05" text-anchor="end">10</text>
<line x1="293.4" y1="393.20" x2="295.4" y2="393.20" stroke="#1a1a1a" stroke-width="0.7"/>
<line x1="516.2" y1="393.20" x2="514.2" y2="393.20" stroke="#1a1a1a" stroke-width="0.7"/>
<text x="290.10" y="397.70" text-anchor="end">20</text>
<line x1="293.4" y1="350.85" x2="295.4" y2="350.85" stroke="#1a1a1a" stroke-width="0.7"/>
<line x1="516.2" y1="350.85" x2="514.2" y2="350.85" stroke="#1a1a1a" stroke-width="0.7"/>
<text x="290.10" y="355.35" text-anchor="end">30</text>
<line x1="293.4" y1="308.50" x2="295.4" y2="308.50" stroke="#1a1a1a" stroke-width="0.7"/>
<line x1="516.2" y1="308.50" x2="514.2" y2="308.50" stroke="#1a1a1a" stroke-width="0.7"/>
<text x="290.10" y="313.00" text-anchor="end">40</text>
<text x="404.80" y="264.8" text-anchor="middle">Same family, different basepairs</text>
</svg>
</body></html>
